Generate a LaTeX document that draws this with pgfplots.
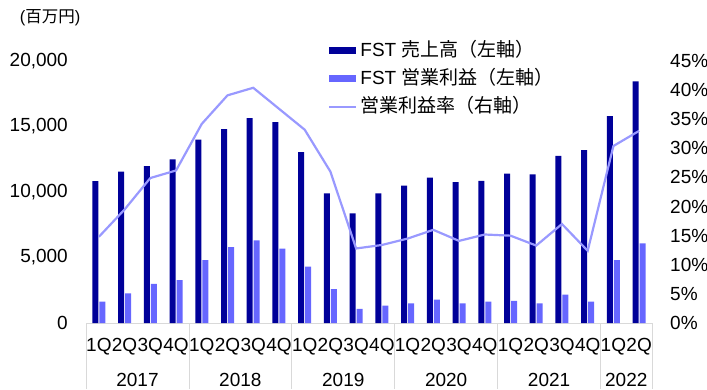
\documentclass[border=0pt]{standalone}
\usepackage{pgfplots}
\pgfplotsset{compat=1.18}
\usepackage{fontspec}
\setmainfont{Liberation Sans}
\newfontfamily\cjk{Noto Sans CJK JP}
\definecolor{navy}{RGB}{0,0,153}
\definecolor{lightb}{RGB}{102,102,255}
\definecolor{linec}{RGB}{153,153,255}
\definecolor{sepc}{RGB}{217,217,217}
\pgfplotstableread{
x sales profit margin
0 10830 1630 14.8
1 11550 2270 19.5
2 11980 2980 24.9
3 12500 3280 26.2
4 14000 4800 34.2
5 14800 5800 39.1
6 15630 6310 40.4
7 15340 5670 36.8
8 13050 4300 33.2
9 9900 2590 26.0
10 8370 1070 12.8
11 9900 1320 13.4
12 10480 1500 14.5
13 11100 1780 16.0
14 10750 1500 14.1
15 10850 1630 15.2
16 11400 1680 15.0
17 11350 1500 13.3
18 12750 2160 17.0
19 13200 1630 12.4
20 15800 4800 30.4
21 18450 6080 33.0
}\datatable
\begin{document}
\fontsize{19bp}{23bp}\selectfont
\begin{tikzpicture}[x=1bp,y=1bp]
\useasboundingbox (0,0) rectangle (707,389);
\node[font=\fontsize{16.5bp}{20bp}\selectfont, inner sep=0pt] at (50,371) {(\cjk 百万円\normalfont)};
\begin{axis}[
  at={(86bp,66bp)}, anchor=south west,
  scale only axis, width=566bp, height=262bp,
  xmin=-0.5, xmax=21.5, ymin=0, ymax=20000,
  clip=false,
  scaled y ticks=false,
  axis x line*=bottom, axis y line*=left,
  x axis line style={draw=sepc, line width=0.6pt, -},
  y axis line style={draw=none},
  xtick={0,...,21},
  xticklabels={1Q,2Q,3Q,4Q,1Q,2Q,3Q,4Q,1Q,2Q,3Q,4Q,1Q,2Q,3Q,4Q,1Q,2Q,3Q,4Q,1Q,2Q},
  xticklabel style={anchor=base, inner sep=0pt, yshift=-28.7bp},
  major tick length=0pt,
  ytick={0,5000,10000,15000,20000},
  yticklabels={0,{5,000},{10,000},{15,000},{20,000}},
  yticklabel style={anchor=east, inner sep=0pt, xshift=-18bp},
  ytick style={draw=none},
  xtick style={draw=none},
  legend style={at={(rel axis cs:0.4276,1.0725)}, anchor=north west, draw=none, fill=none, inner sep=0pt,
    nodes={inner sep=0pt, text height=14bp, text depth=4bp, anchor=base west},
    row sep=10bp, column sep=0pt,
    /tikz/every odd column/.append style={column sep=3bp}},
  legend cell align=left,
]
\addplot[ybar, fill=navy, draw=none, bar width=6bp, bar shift=-3.5bp,
  legend image code/.code={\fill[navy] (0bp,2bp) rectangle (27bp,9bp);}]
  table[x=x, y=sales] {\datatable};
\addlegendentry{FST {\cjk 売上高（左軸）}}
\addplot[ybar, fill=lightb, draw=none, bar width=6bp, bar shift=3.5bp,
  legend image code/.code={\fill[lightb] (0bp,2bp) rectangle (27bp,9bp);}]
  table[x=x, y=profit] {\datatable};
\addlegendentry{FST {\cjk 営業利益（左軸）}}
\addlegendimage{legend image code/.code={\draw[linec, line width=2.2bp] (0bp,5.5bp) -- (27bp,5.5bp);}}
\addlegendentry{{\cjk 営業利益率（右軸）}}
\draw[sepc, line width=0.8pt] (axis cs:-0.5,0) -- ++(0bp,-66bp);
\draw[sepc, line width=0.8pt] (axis cs:3.5,0) -- ++(0bp,-66bp);
\draw[sepc, line width=0.8pt] (axis cs:7.5,0) -- ++(0bp,-66bp);
\draw[sepc, line width=0.8pt] (axis cs:11.5,0) -- ++(0bp,-66bp);
\draw[sepc, line width=0.8pt] (axis cs:15.5,0) -- ++(0bp,-66bp);
\draw[sepc, line width=0.8pt] (axis cs:19.5,0) -- ++(0bp,-66bp);
\draw[sepc, line width=0.8pt] (axis cs:21.5,0) -- ++(0bp,-66bp);
\node[anchor=base, inner sep=0pt] at (axis cs:1.5,0) [yshift=-63bp] {2017};
\node[anchor=base, inner sep=0pt] at (axis cs:5.5,0) [yshift=-63bp] {2018};
\node[anchor=base, inner sep=0pt] at (axis cs:9.5,0) [yshift=-63bp] {2019};
\node[anchor=base, inner sep=0pt] at (axis cs:13.5,0) [yshift=-63bp] {2020};
\node[anchor=base, inner sep=0pt] at (axis cs:17.5,0) [yshift=-63bp] {2021};
\node[anchor=base, inner sep=0pt] at (axis cs:20.5,0) [yshift=-63bp] {2022};
\end{axis}
\begin{axis}[
  at={(86bp,66bp)}, anchor=south west,
  scale only axis, width=566bp, height=262bp,
  xmin=-0.5, xmax=21.5, ymin=0, ymax=45,
  axis x line=none, axis y line*=right,
  y axis line style={draw=none},
  major tick length=0pt,
  ytick={0,5,...,45},
  yticklabels={0\%,5\%,10\%,15\%,20\%,25\%,30\%,35\%,40\%,45\%},
  yticklabel style={anchor=west, inner sep=0pt, xshift=18bp},
  ytick style={draw=none},
  clip=false,
]
\addplot[linec, line width=2.2bp, mark=none] table[x=x, y=margin] {\datatable};
\end{axis}
\end{tikzpicture}
\end{document}
